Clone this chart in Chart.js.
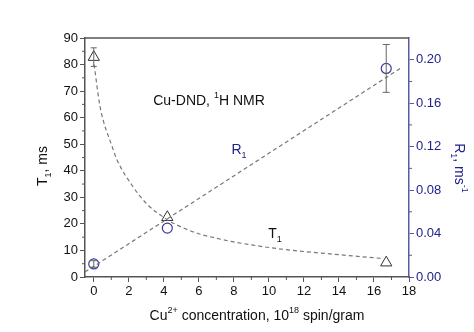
<!DOCTYPE html>
<html>
<head>
<meta charset="utf-8">
<script src="https://cdn.jsdelivr.net/npm/chart.js@4/dist/chart.umd.min.js"></script>
<style>
  html, body { margin: 0; padding: 0; background: #fff; }
  #wrap { width: 474px; height: 332px; }
</style>
</head>
<body>
<div id="wrap"><canvas id="chart"></canvas></div>
<script>
// measured points
const concX = [0, 4.2, 16.7];
const t1Vals = [82.8, 22.5, 5.4];
const t1Err = [3.5, 0, 0];
const r1Vals = [0.012, 0.045, 0.192];
const r1Err = [0.003, 0, 0.022];

// fit curves
const t1FitX = [0.02, 0.36, 1.05, 1.33, 2.25, 3.05, 4.19, 5, 6, 7, 8, 9, 10, 12, 14, 16.4];
const t1FitY = [80, 64.2, 49.1, 44.1, 33.9, 27.4, 21.6, 18.8, 16.3, 14.6, 13.2, 12.1, 11.1, 9.6, 8.4, 7.0];
const r1FitX = [-0.5, 17.5];
const r1FitY = [0.0046, 0.192];

// axis ticks
const xTicks = [0, 2, 4, 6, 8, 10, 12, 14, 16, 18];
const xMinor = [1, 3, 5, 7, 9, 11, 13, 15, 17];
const yTicks = [0, 10, 20, 30, 40, 50, 60, 70, 80, 90];
const yMinor = [5, 15, 25, 35, 45, 55, 65, 75, 85];
const y2Ticks = [0, 0.04, 0.08, 0.12, 0.16, 0.20];
const y2Minor = [0.02, 0.06, 0.10, 0.14, 0.18];

const FONT = '"Liberation Sans", Arial, sans-serif';
const AXIS_GRAY = '#555';
const BLUE_AXIS = '#5a5aa0';
const BLUE_TEXT = '#22228a';

const pts = (xs, ys) => xs.map((x, i) => ({ x: x, y: ys[i] }));

// text with sub/superscript pieces
function drawRich(ctx, parts, x, y, size, color, rotate) {
    ctx.save();
    ctx.translate(x, y);
    if (rotate) ctx.rotate(rotate);
    ctx.fillStyle = color;
    ctx.textBaseline = 'alphabetic';
    ctx.textAlign = 'left';
    let total = 0;
    parts.forEach(p => {
        ctx.font = (p.sub || p.sup ? Math.round(size * 0.62) : size) + 'px ' + FONT;
        p.w = ctx.measureText(p.t).width;
        total += p.w;
    });
    let cx = -total / 2;
    parts.forEach(p => {
        ctx.font = (p.sub || p.sup ? Math.round(size * 0.62) : size) + 'px ' + FONT;
        let dy = 0;
        if (p.sub) dy = size * 0.3;
        if (p.sup) dy = -size * 0.5;
        ctx.fillText(p.t, cx, dy);
        cx += p.w;
    });
    ctx.restore();
}

const extras = {
    id: 'extras',
    afterDatasetsDraw(chart) {
        const ctx = chart.ctx;
        const xs = chart.scales.x, ys = chart.scales.y, y2 = chart.scales.y2;
        const area = chart.chartArea;

        // error bars
        ctx.save();
        ctx.strokeStyle = '#666';
        ctx.lineWidth = 1;
        const bar = (sc, x, v, e, cap) => {
            if (!e) return;
            const px = xs.getPixelForValue(x);
            const top = sc.getPixelForValue(v + e);
            const bot = sc.getPixelForValue(v - e);
            ctx.beginPath();
            ctx.moveTo(px, top); ctx.lineTo(px, bot);
            ctx.moveTo(px - cap, top); ctx.lineTo(px + cap, top);
            ctx.moveTo(px - cap, bot); ctx.lineTo(px + cap, bot);
            ctx.stroke();
        };
        concX.forEach((x, i) => {
            bar(ys, x, t1Vals[i], t1Err[i], 3);
            bar(y2, x, r1Vals[i], r1Err[i], 3.5);
        });
        ctx.restore();

        // top frame line
        ctx.save();
        ctx.strokeStyle = AXIS_GRAY;
        ctx.lineWidth = 1.5;
        ctx.beginPath();
        ctx.moveTo(area.left, area.top);
        ctx.lineTo(area.right, area.top);
        ctx.stroke();

        // minor ticks
        ctx.lineWidth = 1;
        ctx.beginPath();
        xMinor.forEach(v => {
            const p = xs.getPixelForValue(v);
            ctx.moveTo(p, area.bottom); ctx.lineTo(p, area.bottom + 3);
        });
        yMinor.forEach(v => {
            const p = ys.getPixelForValue(v);
            ctx.moveTo(area.left, p); ctx.lineTo(area.left - 3, p);
        });
        ctx.stroke();
        ctx.strokeStyle = BLUE_AXIS;
        ctx.beginPath();
        y2Minor.forEach(v => {
            const p = y2.getPixelForValue(v);
            ctx.moveTo(area.right, p); ctx.lineTo(area.right + 3, p);
        });
        ctx.stroke();
        ctx.restore();

        // axis titles
        drawRich(ctx, [{ t: 'Cu' }, { t: '2+', sup: true }, { t: ' concentration, 10' }, { t: '18', sup: true }, { t: ' spin/gram' }],
            257, 320, 14, '#111');
        drawRich(ctx, [{ t: 'T' }, { t: '1', sub: true }, { t: ', ms' }],
            47, 166, 14, '#111', -Math.PI / 2);
        drawRich(ctx, [{ t: 'R' }, { t: '1', sub: true }, { t: ', ms' }, { t: '-1', sup: true }],
            455, 168, 14, BLUE_TEXT, Math.PI / 2);

        // annotations
        drawRich(ctx, [{ t: 'Cu-DND, ' }, { t: '1', sup: true }, { t: 'H NMR' }], 209, 105, 14, '#111');
        drawRich(ctx, [{ t: 'R' }, { t: '1', sub: true }], 239, 154, 14, BLUE_TEXT);
        drawRich(ctx, [{ t: 'T' }, { t: '1', sub: true }], 275, 238, 14, '#111');
    }
};

const fixTicks = list => scale => { scale.ticks = list.map(v => ({ value: v })); };

new Chart(document.getElementById('chart'), {
    type: 'scatter',
    data: {
        datasets: [
            {
                label: 'T1 fit',
                data: pts(t1FitX, t1FitY),
                showLine: true,
                borderColor: '#777',
                borderWidth: 1.2,
                borderDash: [4, 3],
                pointRadius: 0,
                cubicInterpolationMode: 'monotone',
                yAxisID: 'y'
            },
            {
                label: 'R1 fit',
                data: pts(r1FitX, r1FitY),
                showLine: true,
                borderColor: '#777',
                borderWidth: 1.2,
                borderDash: [4, 3],
                pointRadius: 0,
                yAxisID: 'y2'
            },
            {
                label: 'T1',
                data: pts(concX, t1Vals),
                pointStyle: 'triangle',
                pointRadius: 6.5,
                borderColor: '#333',
                borderWidth: 1,
                backgroundColor: 'rgba(0,0,0,0)',
                yAxisID: 'y'
            },
            {
                label: 'R1',
                data: pts(concX, r1Vals),
                pointStyle: 'circle',
                pointRadius: 5,
                borderColor: '#3a3a9c',
                borderWidth: 1.2,
                backgroundColor: 'rgba(0,0,0,0)',
                yAxisID: 'y2'
            }
        ]
    },
    options: {
        responsive: true,
        maintainAspectRatio: false,
        animation: false,
        layout: { padding: { top: 38, left: 0, right: 0, bottom: 0 } },
        plugins: { legend: { display: false }, tooltip: { enabled: false } },
        scales: {
            x: {
                type: 'linear',
                min: -0.5, max: 18,
                afterBuildTicks: fixTicks(xTicks),
                afterFit: s => { s.height = 55; },
                border: { color: AXIS_GRAY, width: 1.5 },
                grid: { drawOnChartArea: false, tickLength: 5, tickColor: AXIS_GRAY },
                ticks: { color: '#111', padding: 2, maxRotation: 0, font: { family: FONT, size: 13 } }
            },
            y: {
                position: 'left',
                min: 0, max: 90,
                afterBuildTicks: fixTicks(yTicks),
                afterFit: s => { s.width = 85; },
                border: { color: AXIS_GRAY, width: 1.5 },
                grid: { drawOnChartArea: false, tickLength: 5, tickColor: AXIS_GRAY },
                ticks: { color: '#111', padding: 2, font: { family: FONT, size: 13 } }
            },
            y2: {
                position: 'right',
                min: 0, max: 0.22,
                afterBuildTicks: fixTicks(y2Ticks),
                afterFit: s => { s.width = 65; },
                border: { color: BLUE_AXIS, width: 1.5 },
                grid: { drawOnChartArea: false, tickLength: 5, tickColor: BLUE_AXIS },
                ticks: {
                    color: BLUE_TEXT, padding: 2,
                    font: { family: FONT, size: 13 },
                    callback: v => v.toFixed(2)
                }
            }
        }
    },
    plugins: [extras]
});
</script>
</body>
</html>
